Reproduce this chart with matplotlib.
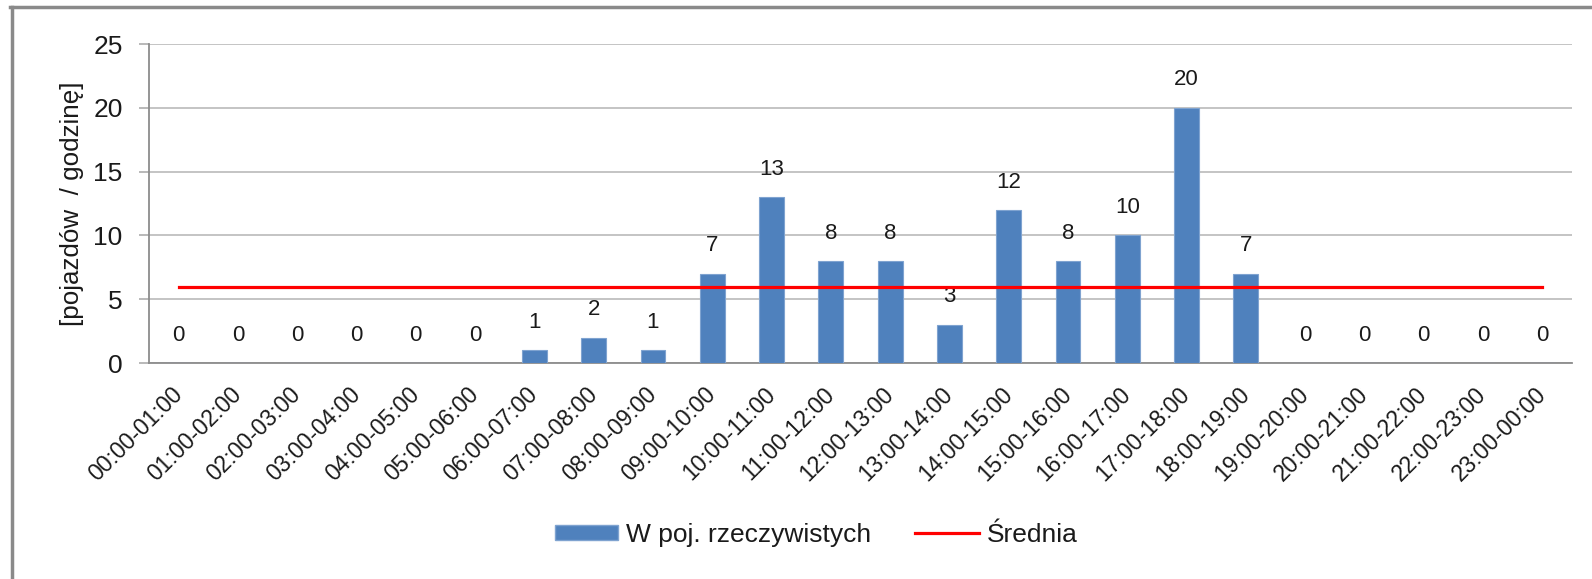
#!/usr/bin/env python3
"""Hourly vehicle counts with the average line (bar + line chart)."""
import matplotlib
matplotlib.use("Agg")
import matplotlib.pyplot as plt
from matplotlib.lines import Line2D
from matplotlib.patches import Patch
import numpy as np

plt.rcParams["font.family"] = ["Liberation Sans", "DejaVu Sans"]

HOURS = [
    "00:00-01:00", "01:00-02:00", "02:00-03:00", "03:00-04:00",
    "04:00-05:00", "05:00-06:00", "06:00-07:00", "07:00-08:00",
    "08:00-09:00", "09:00-10:00", "10:00-11:00", "11:00-12:00",
    "12:00-13:00", "13:00-14:00", "14:00-15:00", "15:00-16:00",
    "16:00-17:00", "17:00-18:00", "18:00-19:00", "19:00-20:00",
    "20:00-21:00", "21:00-22:00", "22:00-23:00", "23:00-00:00",
]
COUNTS = [0, 0, 0, 0, 0, 0, 1, 2, 1, 7, 13, 8, 8, 3, 12, 8, 10, 20, 7, 0, 0, 0, 0, 0]
AVERAGE = 5.92

BAR_LABEL = "W poj. rzeczywistych"
LINE_LABEL = "Średnia"
Y_LABEL = "[pojazdów  / godzinę]"

BAR_COLOR = "#4F81BD"
LINE_COLOR = "#FF0000"
GRID_COLOR = "#BFBFBF"
TEXT_COLOR = "#1a1a1a"


def main() -> None:
    fig = plt.figure(figsize=(15.92, 5.79), dpi=100)
    ax = fig.add_axes([0.0936, 0.373, 0.8938, 0.551])

    x = np.arange(len(HOURS))
    ax.bar(x, COUNTS, width=0.42, color=BAR_COLOR, edgecolor="#7FA3D0",
           linewidth=0.8, zorder=3)
    ax.plot([x[0], x[-1]], [AVERAGE, AVERAGE], color=LINE_COLOR,
            linewidth=2.3, zorder=4)

    for xi, val in zip(x, COUNTS):
        ax.annotate(f"{val}", (xi, val), xytext=(0, 12.5), textcoords="offset points",
                    ha="center", va="bottom", fontsize=16, color=TEXT_COLOR)

    ax.set_xlim(-0.5, len(HOURS) - 0.5)
    ax.set_ylim(0, 25)
    ax.set_yticks(range(0, 26, 5))
    ax.yaxis.grid(True, color=GRID_COLOR, linewidth=1.3, zorder=0)
    ax.set_axisbelow(True)

    for side in ("top", "right"):
        ax.spines[side].set_visible(False)
    ax.spines["left"].set_color("#8c8c8c")
    ax.spines["bottom"].set_color("#8c8c8c")
    ax.spines["left"].set_linewidth(1.3)
    ax.spines["bottom"].set_linewidth(1.3)

    ax.tick_params(axis="y", length=7, width=1.1, color="#a6a6a6",
                   labelsize=19, labelcolor=TEXT_COLOR, pad=12)
    ax.tick_params(axis="x", length=0, labelsize=16.5, labelcolor=TEXT_COLOR, pad=20)
    ax.set_xticks(x)
    ax.set_xticklabels(HOURS, rotation=45, ha="right", va="center",
                       rotation_mode="anchor")

    ax.set_ylabel(Y_LABEL, fontsize=18.7, color=TEXT_COLOR)
    ax.yaxis.set_label_coords(-0.0455, 0.5)

    handles = [
        Patch(facecolor=BAR_COLOR, edgecolor="#7FA3D0", label=BAR_LABEL),
        Line2D([0], [0], color=LINE_COLOR, linewidth=2.3, label=LINE_LABEL),
    ]
    fig.legend(handles=handles, loc="center", bbox_to_anchor=(0.5126, 0.076),
               ncol=2, frameon=False, fontsize=19, handlelength=2.4,
               handleheight=0.53, handletextpad=0.3, columnspacing=1.67,
               labelcolor=TEXT_COLOR)

    # chart area frame (left and top edges visible in the crop)
    fig.add_artist(Line2D([0.0073, 0.0073], [0, 0.988], color="#8a8a8a",
                          linewidth=2.5, transform=fig.transFigure))
    fig.add_artist(Line2D([0.0063, 1.0], [0.988, 0.988], color="#8a8a8a",
                          linewidth=2.5, transform=fig.transFigure))

    fig.savefig("out.png", dpi=100)
    plt.close(fig)


if __name__ == "__main__":
    main()
